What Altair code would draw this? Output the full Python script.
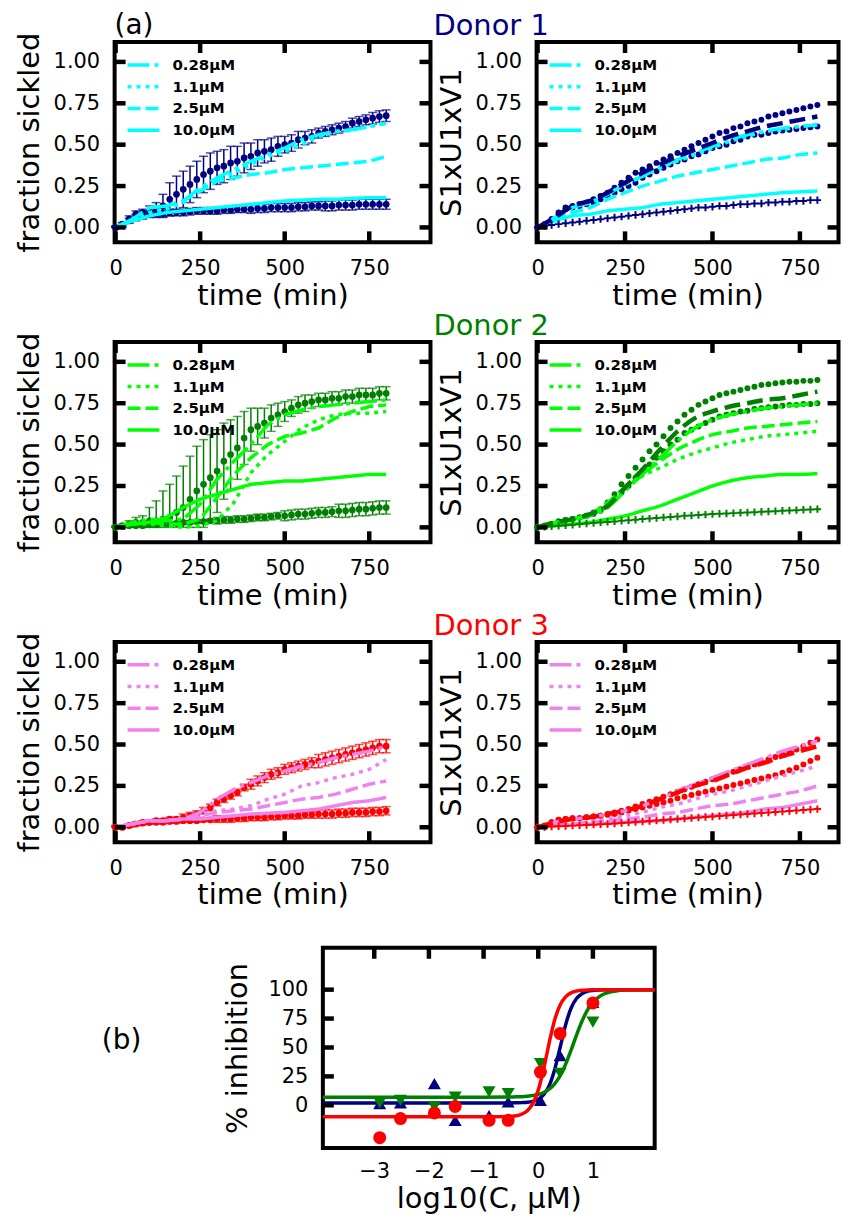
import altair as alt
import pandas as pd
import numpy as np

FONT = "DejaVu Sans"

# ---------------- shared axes values ----------------
T20 = [0, 20, 40, 60, 80, 100, 120, 140, 160, 180, 200, 220, 240, 260, 280, 300, 320, 340, 360, 380,
       400, 420, 440, 460, 480, 500, 520, 540, 560, 580, 600, 620, 640, 660, 680, 700, 720, 740, 760, 780, 800]
T50 = [0, 50, 100, 150, 200, 250, 300, 350, 400, 450, 500, 550, 600, 650, 700, 750, 800]
CONCS = ["0.28µM", "1.1µM", "2.5µM", "10.0µM"]
TIME_TICKS = [0, 250, 500, 750]
FRAC_TICKS = [0.0, 0.25, 0.5, 0.75, 1.0]
LOG_TICKS = [-3, -2, -1, 0, 1]
INH_TICKS = [0, 25, 50, 75, 100]

# ---------------- Donor 1 ----------------
D1_EXP_HI = [0.00, 0.02, 0.05, 0.08, 0.09, 0.10, 0.11, 0.13, 0.17, 0.20, 0.23, 0.26, 0.29, 0.32, 0.34, 0.36, 0.37, 0.39, 0.40, 0.42,
             0.43, 0.45, 0.46, 0.47, 0.49, 0.50, 0.51, 0.53, 0.54, 0.55, 0.57, 0.58, 0.59, 0.60, 0.61, 0.63, 0.64, 0.65, 0.66, 0.67, 0.675]
D1_EXP_HI_ERR = [0.01, 0.01, 0.02, 0.02, 0.02, 0.03, 0.04, 0.07, 0.10, 0.11, 0.11, 0.11, 0.11, 0.11, 0.11, 0.10, 0.10, 0.10, 0.09, 0.09,
                 0.08, 0.08, 0.07, 0.07, 0.06, 0.05, 0.05, 0.05, 0.04, 0.04, 0.03, 0.03, 0.03, 0.03, 0.03, 0.03, 0.03, 0.03, 0.035, 0.035, 0.035]
D1_EXP_LO = [0.00, 0.01, 0.04, 0.06, 0.07, 0.08, 0.08, 0.085, 0.09, 0.09, 0.09, 0.095, 0.10, 0.10, 0.10, 0.10, 0.105, 0.105, 0.11, 0.11,
             0.11, 0.115, 0.115, 0.12, 0.12, 0.12, 0.12, 0.125, 0.125, 0.13, 0.13, 0.13, 0.13, 0.135, 0.135, 0.135, 0.14, 0.14, 0.14, 0.14, 0.14]
D1_EXP_LO_ERR = [0.005, 0.01, 0.015, 0.02, 0.02, 0.02, 0.02, 0.02, 0.02, 0.02, 0.02, 0.02, 0.02, 0.02, 0.02, 0.02, 0.02, 0.02, 0.02, 0.02,
                 0.025, 0.025, 0.025, 0.025, 0.025, 0.025, 0.025, 0.025, 0.025, 0.025, 0.025, 0.03, 0.03, 0.03, 0.03, 0.03, 0.03, 0.03, 0.03, 0.03, 0.03]
D1_EXP_028 = [0.00, 0.05, 0.12, 0.13, 0.16, 0.24, 0.30, 0.35, 0.40, 0.44, 0.48, 0.53, 0.56, 0.58, 0.59, 0.61, 0.63]
D1_EXP_11 = [0.00, 0.04, 0.09, 0.11, 0.15, 0.23, 0.29, 0.33, 0.38, 0.43, 0.46, 0.50, 0.55, 0.58, 0.59, 0.61, 0.63]
D1_EXP_25 = [0.00, 0.05, 0.12, 0.13, 0.16, 0.22, 0.28, 0.30, 0.32, 0.33, 0.35, 0.36, 0.37, 0.38, 0.39, 0.40, 0.43]
D1_EXP_10 = [0.00, 0.04, 0.07, 0.09, 0.10, 0.11, 0.12, 0.13, 0.14, 0.15, 0.16, 0.165, 0.17, 0.17, 0.175, 0.18, 0.18]

D1_MOD_HI = [0.00, 0.02, 0.05, 0.09, 0.12, 0.13, 0.14, 0.15, 0.17, 0.19, 0.21, 0.24, 0.27, 0.30, 0.33, 0.35, 0.37, 0.39, 0.41, 0.43,
             0.45, 0.47, 0.49, 0.51, 0.53, 0.55, 0.57, 0.58, 0.60, 0.61, 0.63, 0.64, 0.65, 0.67, 0.68, 0.69, 0.70, 0.71, 0.72, 0.73, 0.74]
D1_MOD_MID = [0.00, 0.02, 0.05, 0.08, 0.11, 0.12, 0.13, 0.14, 0.15, 0.17, 0.19, 0.21, 0.23, 0.25, 0.27, 0.30, 0.32, 0.34, 0.36, 0.38,
              0.40, 0.41, 0.43, 0.44, 0.46, 0.48, 0.49, 0.50, 0.52, 0.53, 0.55, 0.56, 0.56, 0.57, 0.58, 0.585, 0.59, 0.595, 0.60, 0.605, 0.61]
D1_MOD_DASH = [0.00, 0.06, 0.13, 0.16, 0.21, 0.27, 0.33, 0.38, 0.43, 0.47, 0.51, 0.55, 0.58, 0.61, 0.63, 0.65, 0.67]
D1_MOD_PLUS = [0.00, 0.01, 0.015, 0.02, 0.025, 0.03, 0.035, 0.04, 0.045, 0.05, 0.055, 0.06, 0.065, 0.07, 0.075, 0.08, 0.085, 0.09, 0.095, 0.10,
               0.105, 0.11, 0.115, 0.12, 0.12, 0.125, 0.13, 0.13, 0.135, 0.14, 0.14, 0.145, 0.145, 0.15, 0.15, 0.155, 0.155, 0.16, 0.16, 0.165, 0.165]
D1_MOD_028 = [0.00, 0.06, 0.12, 0.15, 0.20, 0.26, 0.31, 0.36, 0.41, 0.45, 0.49, 0.53, 0.56, 0.58, 0.60, 0.61, 0.62]
D1_MOD_11 = [0.00, 0.06, 0.12, 0.15, 0.20, 0.26, 0.31, 0.36, 0.40, 0.44, 0.48, 0.52, 0.55, 0.58, 0.59, 0.61, 0.62]
D1_MOD_25 = [0.00, 0.05, 0.09, 0.12, 0.17, 0.21, 0.25, 0.28, 0.31, 0.33, 0.35, 0.37, 0.39, 0.41, 0.42, 0.44, 0.45]
D1_MOD_10 = [0.00, 0.04, 0.07, 0.08, 0.10, 0.11, 0.12, 0.14, 0.15, 0.16, 0.17, 0.18, 0.19, 0.20, 0.21, 0.215, 0.22]

# ---------------- Donor 2 ----------------
D2_EXP_HI = [0.00, 0.01, 0.02, 0.03, 0.03, 0.04, 0.04, 0.05, 0.06, 0.09, 0.12, 0.17, 0.22, 0.26, 0.30, 0.34, 0.40, 0.44, 0.48, 0.54,
             0.59, 0.61, 0.63, 0.66, 0.68, 0.70, 0.72, 0.74, 0.75, 0.76, 0.77, 0.77, 0.78, 0.78, 0.79, 0.79, 0.80, 0.80, 0.80, 0.81, 0.81]
D2_EXP_HI_ERR = [0.01, 0.01, 0.02, 0.03, 0.04, 0.08, 0.12, 0.17, 0.20, 0.22, 0.25, 0.26, 0.27, 0.27, 0.26, 0.25, 0.23, 0.21, 0.19, 0.16,
                 0.13, 0.11, 0.09, 0.08, 0.07, 0.06, 0.05, 0.05, 0.05, 0.04, 0.04, 0.04, 0.04, 0.04, 0.04, 0.04, 0.04, 0.04, 0.04, 0.04, 0.04]
D2_EXP_LO = [0.00, 0.005, 0.01, 0.01, 0.01, 0.015, 0.015, 0.02, 0.02, 0.025, 0.03, 0.03, 0.035, 0.035, 0.04, 0.04, 0.045, 0.045, 0.05, 0.05,
             0.055, 0.06, 0.06, 0.065, 0.07, 0.07, 0.075, 0.08, 0.08, 0.085, 0.09, 0.09, 0.095, 0.10, 0.10, 0.105, 0.11, 0.11, 0.115, 0.12, 0.12]
D2_EXP_LO_ERR = [0.005, 0.005, 0.005, 0.005, 0.005, 0.01, 0.01, 0.01, 0.01, 0.01, 0.01, 0.01, 0.01, 0.01, 0.01, 0.02, 0.02, 0.02, 0.02, 0.02,
                 0.02, 0.02, 0.02, 0.02, 0.02, 0.03, 0.03, 0.03, 0.03, 0.03, 0.03, 0.03, 0.03, 0.04, 0.04, 0.04, 0.04, 0.04, 0.04, 0.04, 0.04]
D2_EXP_028 = [0.00, 0.03, 0.05, 0.04, 0.05, 0.14, 0.29, 0.40, 0.50, 0.62, 0.68, 0.71, 0.73, 0.74, 0.75, 0.76, 0.77]
D2_EXP_11 = [0.00, 0.02, 0.02, 0.01, 0.00, 0.01, 0.04, 0.15, 0.33, 0.44, 0.52, 0.60, 0.65, 0.68, 0.69, 0.69, 0.70]
D2_EXP_25 = [0.00, 0.02, 0.03, 0.02, 0.02, 0.05, 0.18, 0.32, 0.42, 0.50, 0.55, 0.57, 0.60, 0.66, 0.70, 0.73, 0.74]
D2_EXP_10 = [0.00, 0.02, 0.03, 0.06, 0.12, 0.17, 0.20, 0.23, 0.26, 0.27, 0.28, 0.28, 0.29, 0.30, 0.31, 0.32, 0.32]

D2_MOD_HI = [0.00, 0.01, 0.02, 0.035, 0.045, 0.05, 0.06, 0.07, 0.09, 0.11, 0.15, 0.20, 0.26, 0.31, 0.36, 0.41, 0.46, 0.50, 0.55, 0.60,
             0.64, 0.68, 0.71, 0.74, 0.76, 0.78, 0.80, 0.81, 0.82, 0.83, 0.84, 0.85, 0.86, 0.865, 0.87, 0.875, 0.88, 0.88, 0.885, 0.885, 0.89]
D2_MOD_MID = [0.00, 0.01, 0.02, 0.035, 0.045, 0.05, 0.06, 0.07, 0.08, 0.10, 0.13, 0.17, 0.21, 0.25, 0.30, 0.34, 0.38, 0.42, 0.46, 0.50,
              0.53, 0.57, 0.59, 0.61, 0.63, 0.65, 0.67, 0.68, 0.69, 0.70, 0.705, 0.715, 0.72, 0.725, 0.73, 0.735, 0.74, 0.74, 0.745, 0.745, 0.75]
D2_MOD_DASH = [0.00, 0.03, 0.05, 0.08, 0.13, 0.24, 0.35, 0.47, 0.58, 0.66, 0.70, 0.73, 0.75, 0.77, 0.78, 0.80, 0.82]
D2_MOD_PLUS = [0.00, 0.003, 0.006, 0.01, 0.013, 0.016, 0.02, 0.023, 0.026, 0.03, 0.033, 0.036, 0.04, 0.043, 0.046, 0.05, 0.053, 0.056, 0.06, 0.063,
               0.066, 0.07, 0.072, 0.075, 0.077, 0.08, 0.082, 0.084, 0.086, 0.088, 0.09, 0.092, 0.094, 0.096, 0.098, 0.10, 0.102, 0.104, 0.106, 0.108, 0.11]
D2_MOD_028 = [0.00, 0.03, 0.05, 0.07, 0.12, 0.22, 0.32, 0.42, 0.52, 0.60, 0.65, 0.68, 0.70, 0.72, 0.73, 0.74, 0.75]
D2_MOD_11 = [0.00, 0.02, 0.05, 0.08, 0.15, 0.24, 0.31, 0.36, 0.41, 0.45, 0.48, 0.51, 0.53, 0.55, 0.56, 0.57, 0.58]
D2_MOD_25 = [0.00, 0.02, 0.05, 0.08, 0.15, 0.24, 0.32, 0.40, 0.47, 0.52, 0.56, 0.58, 0.60, 0.61, 0.62, 0.63, 0.64]
D2_MOD_10 = [0.00, 0.01, 0.02, 0.03, 0.05, 0.07, 0.10, 0.13, 0.17, 0.21, 0.25, 0.28, 0.30, 0.31, 0.32, 0.32, 0.325]

# ---------------- Donor 3 ----------------
D3_EXP_HI = [0.00, 0.00, 0.01, 0.02, 0.03, 0.03, 0.04, 0.04, 0.05, 0.05, 0.06, 0.07, 0.08, 0.10, 0.12, 0.15, 0.17, 0.19, 0.21, 0.24,
             0.26, 0.28, 0.30, 0.32, 0.33, 0.35, 0.36, 0.37, 0.38, 0.39, 0.40, 0.41, 0.42, 0.43, 0.44, 0.45, 0.46, 0.47, 0.48, 0.49, 0.49]
D3_EXP_HI_ERR = [0.01, 0.01, 0.01, 0.01, 0.01, 0.01, 0.01, 0.01, 0.01, 0.01, 0.02, 0.02, 0.02, 0.02, 0.02, 0.02, 0.02, 0.02, 0.02, 0.02,
                 0.03, 0.03, 0.03, 0.03, 0.03, 0.03, 0.03, 0.03, 0.03, 0.03, 0.04, 0.04, 0.04, 0.04, 0.04, 0.04, 0.04, 0.04, 0.04, 0.04, 0.04]
D3_EXP_LO = [0.00, 0.00, 0.01, 0.02, 0.025, 0.03, 0.03, 0.03, 0.035, 0.035, 0.04, 0.04, 0.04, 0.045, 0.045, 0.05, 0.05, 0.05, 0.055, 0.055,
             0.06, 0.06, 0.06, 0.065, 0.065, 0.07, 0.07, 0.07, 0.075, 0.075, 0.08, 0.08, 0.08, 0.085, 0.085, 0.09, 0.09, 0.09, 0.095, 0.095, 0.10]
D3_EXP_LO_ERR = [0.01, 0.01, 0.01, 0.01, 0.01, 0.01, 0.01, 0.01, 0.01, 0.01, 0.01, 0.01, 0.01, 0.01, 0.01, 0.02, 0.02, 0.02, 0.02, 0.02,
                 0.02, 0.02, 0.02, 0.02, 0.02, 0.02, 0.02, 0.02, 0.02, 0.02, 0.025, 0.025, 0.025, 0.025, 0.025, 0.025, 0.025, 0.025, 0.025, 0.025, 0.025]
D3_EXP_028 = [0.00, 0.02, 0.04, 0.04, 0.05, 0.09, 0.17, 0.23, 0.27, 0.31, 0.34, 0.37, 0.39, 0.42, 0.44, 0.46, 0.49]
D3_EXP_11 = [0.00, 0.02, 0.04, 0.04, 0.05, 0.08, 0.10, 0.11, 0.13, 0.17, 0.20, 0.25, 0.27, 0.30, 0.32, 0.35, 0.41]
D3_EXP_25 = [0.00, 0.02, 0.04, 0.04, 0.05, 0.07, 0.09, 0.10, 0.11, 0.13, 0.15, 0.17, 0.18, 0.20, 0.23, 0.26, 0.28]
D3_EXP_10 = [0.00, 0.02, 0.04, 0.04, 0.05, 0.05, 0.06, 0.07, 0.08, 0.085, 0.09, 0.10, 0.11, 0.13, 0.15, 0.16, 0.18]

D3_MOD_HI = [0.00, 0.01, 0.03, 0.045, 0.05, 0.055, 0.055, 0.06, 0.065, 0.07, 0.08, 0.09, 0.10, 0.11, 0.125, 0.14, 0.155, 0.17, 0.185, 0.20,
             0.215, 0.23, 0.245, 0.26, 0.275, 0.29, 0.305, 0.32, 0.335, 0.35, 0.365, 0.38, 0.395, 0.41, 0.425, 0.44, 0.455, 0.47, 0.49, 0.51, 0.53]
D3_MOD_MID = [0.00, 0.01, 0.03, 0.045, 0.05, 0.055, 0.055, 0.06, 0.065, 0.07, 0.075, 0.08, 0.09, 0.10, 0.11, 0.12, 0.13, 0.14, 0.15, 0.16,
              0.175, 0.185, 0.195, 0.205, 0.215, 0.225, 0.235, 0.245, 0.255, 0.265, 0.275, 0.285, 0.295, 0.305, 0.315, 0.33, 0.345, 0.36, 0.38, 0.40, 0.42]
D3_MOD_DASH = [0.00, 0.03, 0.05, 0.06, 0.08, 0.10, 0.13, 0.17, 0.21, 0.25, 0.28, 0.32, 0.36, 0.39, 0.43, 0.46, 0.49]
D3_MOD_PLUS = [0.00, 0.002, 0.004, 0.006, 0.008, 0.01, 0.012, 0.014, 0.016, 0.018, 0.02, 0.023, 0.026, 0.029, 0.032, 0.035, 0.038, 0.041, 0.044, 0.047,
               0.05, 0.053, 0.056, 0.059, 0.062, 0.065, 0.068, 0.071, 0.074, 0.077, 0.08, 0.083, 0.086, 0.089, 0.092, 0.095, 0.098, 0.101, 0.104, 0.107, 0.11]
D3_MOD_028 = [0.00, 0.03, 0.05, 0.06, 0.08, 0.10, 0.13, 0.17, 0.22, 0.26, 0.30, 0.34, 0.38, 0.42, 0.46, 0.49, 0.52]
D3_MOD_11 = [0.00, 0.01, 0.02, 0.03, 0.05, 0.07, 0.09, 0.12, 0.14, 0.17, 0.20, 0.22, 0.25, 0.28, 0.31, 0.34, 0.37]
D3_MOD_25 = [0.00, 0.01, 0.02, 0.03, 0.04, 0.05, 0.06, 0.08, 0.09, 0.11, 0.13, 0.14, 0.16, 0.18, 0.20, 0.22, 0.25]
D3_MOD_10 = [0.00, 0.01, 0.015, 0.02, 0.025, 0.03, 0.035, 0.04, 0.05, 0.06, 0.07, 0.08, 0.09, 0.11, 0.12, 0.14, 0.16]

# ---------------- panel (b) ----------------
B_LOGC = [-2.9, -2.52, -1.9, -1.52, -0.9, -0.55, 0.04, 0.4, 1.0]
B_NAVY = [1.5, 2.0, 18.7, -13.0, -9.0, 3.0, 4.3, 43.0, 89.0]
B_GREEN = [2.0, 4.3, -1.4, 7.0, 11.5, 10.0, 36.0, 27.5, 72.0]
B_RED = [-28.0, -11.5, -6.6, -1.0, -13.0, -13.0, 28.7, 62.0, 88.5]
FIT_X = [-3.94, -1.0, -0.6, -0.4, -0.3, -0.2, -0.1, 0.0, 0.1, 0.2, 0.3, 0.4, 0.5, 0.6, 0.7, 0.8, 0.9, 1.0, 1.1, 1.2, 1.4, 1.6, 2.13]
FIT_NAVY = [2.0, 2.0, 2.0, 2.1, 2.3, 2.6, 3.4, 5.2, 9.1, 17.0, 30.8, 50.0, 69.5, 83.9, 92.3, 96.5, 98.5, 99.3, 99.7, 99.9, 100, 100, 100]
FIT_GREEN = [7.0, 7.0, 7.1, 7.3, 7.4, 7.8, 8.4, 9.4, 11.1, 13.9, 18.5, 25.6, 35.4, 47.6, 60.7, 72.7, 82.2, 89.0, 93.4, 96.2, 98.7, 99.6, 100]
FIT_RED = [-10, -10, -9.8, -9.0, -7.6, -4.7, 1.4, 13.1, 31.6, 54.0, 73.8, 86.8, 93.8, 97.2, 98.8, 99.5, 99.8, 99.9, 100, 100, 100, 100, 100]

DONORS = [
    dict(name="Donor 1", dark="#000080", light="#00ffff",
         exp_hi=D1_EXP_HI, exp_hi_err=D1_EXP_HI_ERR, exp_lo=D1_EXP_LO, exp_lo_err=D1_EXP_LO_ERR,
         exp_lines=[D1_EXP_028, D1_EXP_11, D1_EXP_25, D1_EXP_10],
         mod_hi=D1_MOD_HI, mod_mid=D1_MOD_MID, mod_dash=D1_MOD_DASH, mod_plus=D1_MOD_PLUS,
         mod_lines=[D1_MOD_028, D1_MOD_11, D1_MOD_25, D1_MOD_10]),
    dict(name="Donor 2", dark="#008000", light="#00ff00",
         exp_hi=D2_EXP_HI, exp_hi_err=D2_EXP_HI_ERR, exp_lo=D2_EXP_LO, exp_lo_err=D2_EXP_LO_ERR,
         exp_lines=[D2_EXP_028, D2_EXP_11, D2_EXP_25, D2_EXP_10],
         mod_hi=D2_MOD_HI, mod_mid=D2_MOD_MID, mod_dash=D2_MOD_DASH, mod_plus=D2_MOD_PLUS,
         mod_lines=[D2_MOD_028, D2_MOD_11, D2_MOD_25, D2_MOD_10]),
    dict(name="Donor 3", dark="#ff0000", light="#ee82ee",
         exp_hi=D3_EXP_HI, exp_hi_err=D3_EXP_HI_ERR, exp_lo=D3_EXP_LO, exp_lo_err=D3_EXP_LO_ERR,
         exp_lines=[D3_EXP_028, D3_EXP_11, D3_EXP_25, D3_EXP_10],
         mod_hi=D3_MOD_HI, mod_mid=D3_MOD_MID, mod_dash=D3_MOD_DASH, mod_plus=D3_MOD_PLUS,
         mod_lines=[D3_MOD_028, D3_MOD_11, D3_MOD_25, D3_MOD_10]),
]

# ---------------- styling ----------------
W_L, W_R, H = 317, 303, 201
TL = 11  # inward tick length
DASHES = [[22, 5, 4, 5], [4, 5], [13, 5], [1, 0]]
PLUS = "M-1,0H1M0,-1V1"
XS_L = alt.Scale(domain=[-2.9, 931], nice=False, zero=False)
XS_R = alt.Scale(domain=[-2.85, 860.4], nice=False, zero=False)
YS = alt.Scale(domain=[-0.09, 1.12], nice=False, zero=False)
TITLE_SIZE = 29


def time_axis():
    return alt.Axis(title="time (min)", values=TIME_TICKS, ticks=False, domain=False, grid=False,
                    labelPadding=15, titlePadding=3, labelFlush=False, labelOverlap=False)


def frac_axis(title):
    return alt.Axis(title=title, values=FRAC_TICKS, format=".2f", ticks=False, domain=False, grid=False,
                    labelPadding=15, titlePadding=8.5, labelFlush=False, labelOverlap=False)


def frame_ticks(xenc, yenc, xticks, yticks, W, Hh, top=True, bottom=True, left=True, right=True):
    out = []
    dx = pd.DataFrame({"t": xticks})
    dy = pd.DataFrame({"v": yticks})
    st = dict(color="black", strokeWidth=4.5)
    if bottom:
        out.append(alt.Chart(dx).mark_rule(**st).encode(x=xenc, y=alt.value(Hh), y2=alt.value(Hh - TL)))
    if top:
        out.append(alt.Chart(dx).mark_rule(**st).encode(x=xenc, y=alt.value(0), y2=alt.value(TL)))
    if left:
        out.append(alt.Chart(dy).mark_rule(**st).encode(y=yenc, x=alt.value(0), x2=alt.value(TL)))
    if right:
        out.append(alt.Chart(dy).mark_rule(**st).encode(y=yenc, x=alt.value(W), x2=alt.value(W - TL)))
    return out


def conc_legend(color):
    return alt.Legend(title=None, orient="none", legendX=11, legendY=15, symbolType="stroke",
                      symbolSize=1024, symbolStrokeWidth=3.5, symbolStrokeColor=color,
                      labelFont=FONT, labelFontSize=15, labelFontWeight="bold", labelColor="black",
                      labelOffset=11, rowPadding=5.8, clipHeight=16, padding=0)


def lines_df(cols):
    rows = []
    for conc, arr in zip(CONCS, cols, strict=True):
        for t, v in zip(T50, arr, strict=True):
            rows.append({"t": t, "v": v, "conc": conc})
    return pd.DataFrame(rows)


def conc_lines(cols, xenc, yenc, color, interp):
    return alt.Chart(lines_df(cols)).mark_line(color=color, strokeWidth=3.5, interpolate=interp).encode(
        x=xenc, y=yenc,
        strokeDash=alt.StrokeDash("conc:N", scale=alt.Scale(domain=CONCS, range=DASHES),
                                  legend=conc_legend(color)))


def err_df(vals, errs):
    v = np.array(vals, dtype=float)
    e = np.array(errs, dtype=float)
    return pd.DataFrame({"t": T20, "v": v, "lo": np.clip(v - e, 0, None), "hi": v + e})


def heading(text, color, x, size):
    # panel heading written just above the frame (like "(a)" and "Donor 1")
    return alt.Chart(pd.DataFrame({"s": [text]})).mark_text(
        font=FONT, fontSize=size, align="left", baseline="top", color=color).encode(
        x=alt.value(x), y=alt.value(-30), text="s:N")


def exp_panel(d, label=None):
    dark, light = d["dark"], d["light"]
    xe = alt.X("t:Q", scale=XS_L, axis=time_axis())

    def ye(f):
        return alt.Y(f + ":Q", scale=YS, axis=frac_axis("fraction sickled"))

    layers = []
    for vals, errs in [(d["exp_hi"], d["exp_hi_err"]), (d["exp_lo"], d["exp_lo_err"])]:
        df = err_df(vals, errs)
        layers.append(alt.Chart(df).mark_rule(color=dark, strokeWidth=1.5).encode(x=xe, y=ye("lo"), y2=alt.Y2("hi:Q")))
        layers.append(alt.Chart(df).mark_tick(color=dark, orient="horizontal", size=9, thickness=1.5).encode(x=xe, y=ye("hi")))
        layers.append(alt.Chart(df).mark_tick(color=dark, orient="horizontal", size=9, thickness=1.5).encode(x=xe, y=ye("lo")))
    for vals in [d["exp_hi"], d["exp_lo"]]:
        df = pd.DataFrame({"t": T20, "v": vals})
        layers.append(alt.Chart(df).mark_circle(color=dark, size=45, opacity=1).encode(x=xe, y=ye("v")))
    layers.append(conc_lines(d["exp_lines"], xe, ye("v"), light, "linear"))
    layers += frame_ticks(xe, ye("v"), TIME_TICKS, FRAC_TICKS, W_L, H)
    if label is not None:
        layers.append(heading(label, "black", 0, 28))
    return alt.layer(*layers).properties(width=W_L, height=H)


def mod_panel(d):
    dark, light = d["dark"], d["light"]
    xe = alt.X("t:Q", scale=XS_R, axis=time_axis())
    ye = alt.Y("v:Q", scale=YS, axis=frac_axis("S1xU1xV1"))
    dots = pd.concat([pd.DataFrame({"t": T20, "v": d["mod_hi"], "s": "hi"}),
                      pd.DataFrame({"t": T20, "v": d["mod_mid"], "s": "mid"})])
    layers = [alt.Chart(dots).mark_circle(color=dark, size=36, opacity=1).encode(x=xe, y=ye)]
    layers.append(conc_lines(d["mod_lines"], xe, ye, light, "monotone"))
    layers.append(alt.Chart(pd.DataFrame({"t": T50, "v": d["mod_dash"]})).mark_line(
        color=dark, strokeWidth=4.5, strokeDash=[16, 7], interpolate="monotone").encode(x=xe, y=ye))
    layers.append(alt.Chart(pd.DataFrame({"t": T20, "v": d["mod_plus"]})).mark_point(
        shape=PLUS, filled=False, size=55, strokeWidth=2, color=dark, opacity=1).encode(x=xe, y=ye))
    layers += frame_ticks(xe, ye, TIME_TICKS, FRAC_TICKS, W_R, H)
    layers.append(heading(d["name"], dark, -103.5, TITLE_SIZE))
    return alt.layer(*layers).properties(width=W_R, height=H)


panels = []
for i, d in enumerate(DONORS):
    panels.append(exp_panel(d, "(a)" if i == 0 else None))
    panels.append(mod_panel(d))

grid = alt.concat(*panels, columns=2, spacing={"row": 100, "column": 106.5}, bounds="flush").resolve_scale(
    strokeDash="independent").resolve_legend(strokeDash="independent")

# ---------------- panel (b) ----------------
W_B = 333
XS_B = alt.Scale(domain=[-3.94, 2.13], nice=False, zero=False)
YS_B = alt.Scale(domain=[-37, 136.2], nice=False, zero=False)
xb = alt.X("x:Q", scale=XS_B, axis=alt.Axis(title="log10(C, µM)", values=LOG_TICKS, ticks=False, domain=False, grid=False,
                                             labelPadding=13, titlePadding=3, labelFlush=False, labelOverlap=False))
yb = alt.Y("y:Q", scale=YS_B, axis=alt.Axis(title="% inhibition", values=INH_TICKS, ticks=False, domain=False, grid=False,
                                             labelPadding=15, titlePadding=16, labelFlush=False, labelOverlap=False))
b_layers = []
for fit, pts, col, shape in [(FIT_NAVY, B_NAVY, "#000080", "triangle-up"),
                             (FIT_GREEN, B_GREEN, "#008000", "triangle-down"),
                             (FIT_RED, B_RED, "#ff0000", "circle")]:
    b_layers.append(alt.Chart(pd.DataFrame({"x": FIT_X, "y": fit})).mark_line(
        color=col, strokeWidth=3.5, interpolate="monotone").encode(x=xb, y=yb))
    b_layers.append(alt.Chart(pd.DataFrame({"x": B_LOGC, "y": pts})).mark_point(
        shape=shape, filled=True, size=170, color=col, opacity=1).encode(x=xb, y=yb))
tick_x = pd.DataFrame({"x": LOG_TICKS})
tick_y = pd.DataFrame({"y": INH_TICKS})
b_layers.append(alt.Chart(tick_x).mark_rule(color="black", strokeWidth=4.5).encode(x=xb, y=alt.value(0), y2=alt.value(TL)))
b_layers.append(alt.Chart(tick_y).mark_rule(color="black", strokeWidth=4.5).encode(y=yb, x=alt.value(0), x2=alt.value(TL)))
panel_b = alt.layer(*b_layers).properties(width=W_B, height=H)

# spacer column holding the "(b)" label; its left edge lines up with the left panels' frame
blank = alt.Chart(pd.DataFrame({"s": ["(b)"]})).mark_text(
    font=FONT, fontSize=28, align="center", baseline="middle", color="black").encode(
    x=alt.value(7), y=alt.value(94), text="s:N").properties(
    width=106, height=H, view=alt.ViewBackground(strokeOpacity=0))

bottom = alt.hconcat(blank, panel_b, spacing=0)

chart = alt.vconcat(grid, bottom, spacing=31).resolve_scale(
    strokeDash="independent").resolve_legend(strokeDash="independent").properties(
    padding={"left": 5, "top": 0, "right": 0, "bottom": 0}
).configure(font=FONT).configure_view(stroke="black", strokeWidth=4).configure_axis(
    labelFont=FONT, titleFont=FONT, labelFontSize=21, titleFontSize=TITLE_SIZE, titleFontWeight="normal",
    labelColor="black", titleColor="black")

chart.save("out.html", embed_options={"renderer": "svg", "actions": False})
